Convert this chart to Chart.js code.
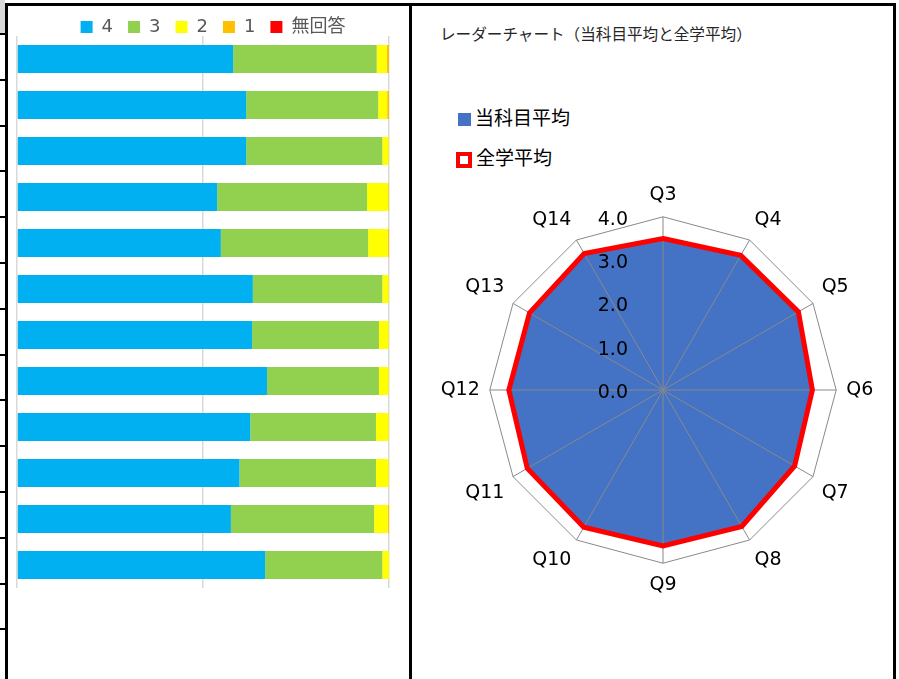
<!DOCTYPE html>
<html>
<head>
<meta charset="utf-8">
<script src="https://cdn.jsdelivr.net/npm/chart.js@4.4.1/dist/chart.umd.min.js"></script>
<style>
  html, body { margin: 0; padding: 0; background: #fff; }
  body { width: 899px; height: 679px; position: relative; overflow: hidden;
         font-family: "Noto Sans CJK JP", "Noto Sans", sans-serif; }
  .line { position: absolute; background: #000; }
  canvas { position: absolute; }
  #radarTitle { position: absolute; left: 440px; top: 22px; font-size: 15.6px; color: #262626; white-space: nowrap; }
  .lg { position: absolute; left: 456px; font-size: 19px; color: #000; white-space: nowrap; line-height: 20px; }
  .lg i { display: inline-block; vertical-align: middle; margin-right: 4px; box-sizing: border-box; }
</style>
</head>
<body>
<div class="line" style="left:0;top:0;width:5px;height:33px;background:#d9d9d9"></div>
<div class="line" style="left:5px;top:3px;width:891px;height:3px"></div>
<div class="line" style="left:5px;top:3px;width:3px;height:676px"></div>
<div class="line" style="left:409px;top:3px;width:3px;height:676px"></div>
<div class="line" style="left:893px;top:3px;width:3px;height:676px"></div>
<div id="rowTicks"></div>

<canvas id="barChart" width="400" height="676" style="left:9px;top:3px"></canvas>

<div id="radarTitle">レーダーチャート（当科目平均と全学平均）</div>
<div class="lg" style="top:107px"><i style="width:13px;height:13px;background:#4472C4;margin-left:2px"></i>当科目平均</div>
<div class="lg" style="top:147px"><i style="width:16px;height:16px;border:4px solid #FF0000;background:#fff"></i>全学平均</div>
<canvas id="radarChart" width="456" height="412" style="left:429px;top:185px"></canvas>

<script>
// questions
const questions = ['Q3', 'Q4', 'Q5', 'Q6', 'Q7', 'Q8', 'Q9', 'Q10', 'Q11', 'Q12', 'Q13', 'Q14'];

// answer distribution (%) per question
const ans4  = [58.1, 61.6, 61.6, 53.8, 54.8, 63.4, 63.2, 67.2, 62.7, 59.8, 57.5, 66.7];
const ans3  = [38.6, 35.5, 36.6, 40.3, 39.6, 34.8, 34.1, 30.1, 33.8, 36.7, 38.5, 31.5];
const ans2  = [2.7, 2.4, 1.7, 5.7, 5.3, 1.7, 2.6, 2.6, 3.4, 3.4, 3.7, 1.8];
const ans1  = [0.6, 0.5, 0.1, 0.2, 0.3, 0.1, 0.1, 0.1, 0.1, 0.1, 0.3, 0.0];
const ansNA = [0, 0, 0, 0, 0, 0, 0, 0, 0, 0, 0, 0];

// radar averages
const subjectAvg = [3.49, 3.56, 3.58, 3.42, 3.48, 3.61, 3.57, 3.63, 3.59, 3.53, 3.53, 3.61];
const overallAvg = [3.50, 3.59, 3.61, 3.45, 3.51, 3.64, 3.60, 3.66, 3.62, 3.56, 3.56, 3.64];
const radarTicks = [0, 1, 2, 3, 4];

const jpFont = '"Noto Sans CJK JP", "Noto Sans", sans-serif';
const latinFont = '"DejaVu Sans", "Noto Sans CJK JP", sans-serif';

// spreadsheet row borders at the left edge
const rowTicks = document.getElementById('rowTicks');
for (let i = 0; i < 14; i++) {
  const d = document.createElement('div');
  d.className = 'line';
  d.style.cssText = `left:0;top:${33 + Math.round(i * 45.8)}px;width:6px;height:2px`;
  rowTicks.appendChild(d);
}

// legend sits tight against the plot like in Excel, a bit right of centre
const tightLegend = {
  id: 'tightLegend',
  beforeInit(chart) {
    const legend = chart.legend;
    const fit = legend.fit;
    legend.fit = function () { fit.call(this); this.height -= 10; };
    const draw = legend.draw;
    legend.draw = function () {
      this.ctx.save();
      this.ctx.translate(10, 0);
      draw.call(this);
      this.ctx.restore();
    };
  }
};

new Chart(document.getElementById('barChart'), {
  type: 'bar',
  data: {
    labels: questions,
    datasets: [
      { label: '4', data: ans4, backgroundColor: '#00B0F0' },
      { label: '3', data: ans3, backgroundColor: '#92D050' },
      { label: '2', data: ans2, backgroundColor: '#FFFF00' },
      { label: '1', data: ans1, backgroundColor: '#FFC000' },
      { label: '無回答', data: ansNA, backgroundColor: '#FF0000' }
    ]
  },
  options: {
    responsive: false,
    animation: false,
    indexAxis: 'y',
    layout: { padding: { left: 8, right: 20, top: 0, bottom: 91 } },
    datasets: { bar: { categoryPercentage: 1, barPercentage: 0.61, borderWidth: 0 } },
    scales: {
      x: {
        stacked: true, min: 0, max: 100,
        ticks: { display: false, stepSize: 50 },
        grid: { color: '#d9d9d9', lineWidth: 1.5, drawTicks: false },
        border: { display: false }
      },
      y: {
        stacked: true,
        ticks: { display: false },
        grid: { display: false, drawTicks: false },
        border: { display: false }
      }
    },
    plugins: {
      legend: {
        position: 'top',
        labels: {
          boxWidth: 12, boxHeight: 12, padding: 15,
          color: '#595959',
          font: { size: 18, family: latinFont }
        }
      },
      tooltip: { enabled: false }
    }
  },
  plugins: [tightLegend]
});

// angle lines over the filled area and tick labels on the left of the axis
const radarOverlay = {
  id: 'radarOverlay',
  afterDatasetDraw(chart, args) {
    if (args.index !== 0) return;
    const r = chart.scales.r;
    const ctx = chart.ctx;
    ctx.save();
    ctx.strokeStyle = '#898989';
    ctx.lineWidth = 1;
    for (let i = 0; i < questions.length; i++) {
      const p = r.getPointPositionForValue(i, r.max);
      ctx.beginPath();
      ctx.moveTo(r.xCenter, r.yCenter);
      ctx.lineTo(p.x, p.y);
      ctx.stroke();
    }
    ctx.restore();
  },
  afterDatasetsDraw(chart) {
    const r = chart.scales.r;
    const ctx = chart.ctx;
    ctx.save();
    ctx.fillStyle = '#000';
    ctx.font = '19px ' + latinFont;
    ctx.textAlign = 'right';
    ctx.textBaseline = 'middle';
    radarTicks.forEach(v => {
      const d = r.getDistanceFromCenterForValue(v);
      ctx.fillText(v.toFixed(1), r.xCenter - 35, r.yCenter - d + 3);
    });
    ctx.restore();
  }
};

new Chart(document.getElementById('radarChart'), {
  type: 'radar',
  data: {
    labels: questions,
    datasets: [
      { label: '当科目平均', data: subjectAvg, order: 1, fill: true,
        backgroundColor: '#4472C4', borderWidth: 0, pointRadius: 0 },
      { label: '全学平均', data: overallAvg, order: 0, fill: false,
        borderColor: '#FF0000', borderWidth: 5, borderJoinStyle: 'miter', pointRadius: 0 }
    ]
  },
  options: {
    responsive: false,
    animation: false,
    layout: { padding: 0 },
    scales: {
      r: {
        min: 0, max: 4,
        ticks: { display: false, stepSize: 1 },
        grid: { color: c => (c.tick && c.tick.value === 4 ? '#898989' : 'rgba(0,0,0,0)'), lineWidth: 1 },
        angleLines: { display: false },
        pointLabels: { color: '#000', padding: 10, font: { size: 19, family: latinFont } }
      }
    },
    plugins: { legend: { display: false }, tooltip: { enabled: false } }
  },
  plugins: [radarOverlay]
});
</script>
</body>
</html>
